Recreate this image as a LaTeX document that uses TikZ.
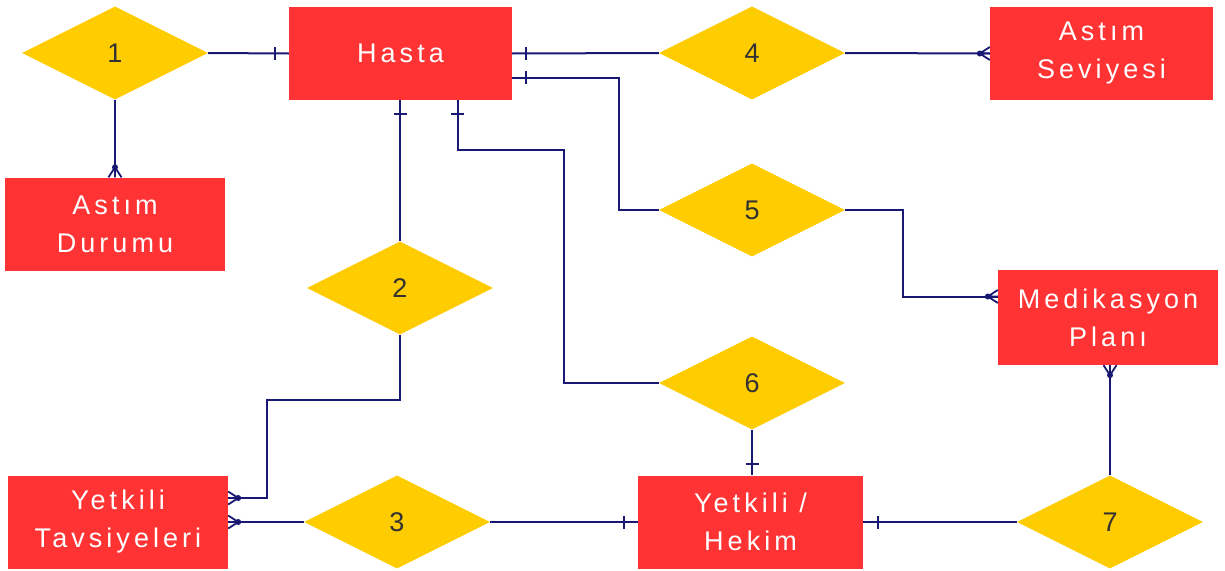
\documentclass[tikz,border=0pt]{standalone}
\usepackage{fontspec}
\setmainfont{Liberation Sans}
\newfontfamily\entfont[LetterSpace=15]{Liberation Sans}
\usetikzlibrary{shapes.geometric,calc}
\definecolor{entred}{RGB}{255,51,51}
\definecolor{relyel}{RGB}{255,204,0}
\definecolor{lnblue}{RGB}{25,25,115}
\definecolor{numgray}{RGB}{50,50,50}
\tikzset{
  entity/.style={rectangle, fill=entred, draw=none, minimum width=223pt, minimum height=93pt, inner sep=0pt,
    text=white, align=center, font=\entfont\fontsize{27}{38}\selectfont},
  rel/.style={diamond, fill=relyel, draw=none, minimum width=186pt, minimum height=93pt, inner sep=0pt,
    text=numgray, font=\fontsize{27}{30}\selectfont},
  conn/.style={draw=lnblue, line width=2pt},
  bar/.pic={\draw[lnblue, line width=2pt] (0,-6.5) -- (0,6.5);},
  crow/.pic={\draw[lnblue, line width=1.8pt] (-10,0) -- (0,-6.5) (-10,0) -- (0,6.5) (-12,0) -- (0,0);
             \fill[lnblue] (-10,0) circle (3pt);}
}
\begin{document}
\begin{tikzpicture}[x=1pt,y=-1pt]
\useasboundingbox (0,0) rectangle (1225,570);
% entities
\node[entity] (has) at (400.5,53.5) {Hasta};
\node[entity] (as) at (1101.5,53.5) {Astım\\Seviyesi};
\node[entity, minimum width=220pt] (ad) at (115,224) {Astım\\Durumu};
\node[entity, minimum width=220pt, minimum height=95pt] (mp) at (1108,317.5) {Medikasyon\\Planı};
\node[entity, minimum width=220pt] (yt) at (118,522) {Yetkili\\Tavsiyeleri};
\node[entity, minimum width=225pt] (hk) at (750.5,522) {Yetkili /\\Hekim};
% relationships
\node[rel] (d1) at (115,53) {1};
\node[rel] (d4) at (752,53) {4};
\node[rel] (d5) at (752,210) {5};
\node[rel] (d2) at (400,288) {2};
\node[rel] (d6) at (752,383) {6};
\node[rel] (d3) at (397,522) {3};
\node[rel] (d7) at (1110,522) {7};
% attachment coordinates
\coordinate (hE2) at ($(has.east)+(0,24)$);
\coordinate (hS2) at ($(has.south)+(57,0)$);
\coordinate (mpIn) at ($(mp.west)+(0,-21)$);
\coordinate (ytIn) at ($(yt.east)+(0,-24)$);
\coordinate (mpS) at (d7.north |- mp.south);
% connectors
\draw[conn] (d1.east) -- (has.west);
\pic at ($(has.west)+(-14,0)$) {bar};
\draw[conn] (d1.south) -- (ad.north);
\pic[rotate=-90] at (ad.north) {crow};
\draw[conn] (has.east) -- (d4.west);
\pic at ($(has.east)+(14,0)$) {bar};
\draw[conn] (d4.east) -- (as.west);
\pic at (as.west) {crow};
\draw[conn] (hE2) -- ++(107,0) |- (d5.west);
\pic at ($(hE2)+(14,0)$) {bar};
\draw[conn] (d5.east) -| ($(mpIn)+(-95,0)$) -- (mpIn);
\pic at (mpIn) {crow};
\draw[conn] (has.south -| d2.north) -- (d2.north);
\pic[rotate=90] at ($(has.south -| d2.north)+(0,14)$) {bar};
\draw[conn] (hS2) -- ++(0,50) -| ($(d6.west)+(-95,0)$) -- (d6.west);
\pic[rotate=90] at ($(hS2)+(0,14)$) {bar};
\draw[conn] (d2.south) -- ++(0,65) -| ($(ytIn)+(39,0)$) -- (ytIn);
\pic[rotate=180] at (ytIn) {crow};
\draw[conn] (d3.west) -- (yt.east);
\pic[rotate=180] at (yt.east) {crow};
\draw[conn] (d3.east) -- (hk.west);
\pic at ($(hk.west)+(-14,0)$) {bar};
\draw[conn] (d6.south) -- (d6.south |- hk.north);
\pic[rotate=90] at ($(d6.south |- hk.north)+(0,-11)$) {bar};
\draw[conn] (d7.west) -- (hk.east);
\pic at ($(hk.east)+(15,0)$) {bar};
\draw[conn] (d7.north) -- (mpS);
\pic[rotate=90] at (mpS) {crow};
\end{tikzpicture}
\end{document}
